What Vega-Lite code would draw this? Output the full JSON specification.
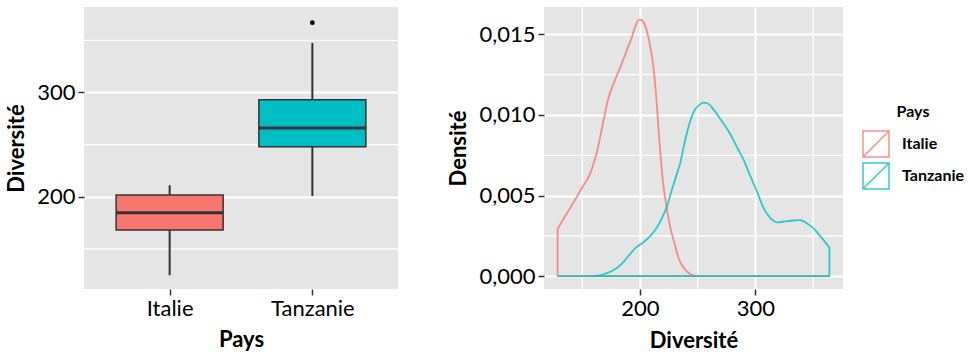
{
  "$schema": "https://vega.github.io/schema/vega-lite/v6.json",
  "autosize": {"type": "none"},
  "padding": {"left": 84, "top": 7, "right": 888, "bottom": 347},
  "background": "white",
  "datasets": {
    "box": [
      {"Pays": "Italie", "lower": 124.7, "q1": 168, "median": 184.6, "q3": 201.6, "upper": 211},
      {"Pays": "Tanzanie", "lower": 200.7, "q1": 248, "median": 266, "q3": 293, "upper": 347.5}
    ],
    "outliers": [{"Pays": "Tanzanie", "value": 367}],
    "minorY1": [{"v": 150}, {"v": 250}, {"v": 350}],
    "minorX2": [{"v": 150}, {"v": 250}, {"v": 350}],
    "minorY2": [{"v": 0.0025}, {"v": 0.0075}, {"v": 0.0125}],
    "density": [
      {"Pays": "Italie", "x": 128.7, "d": 0.00293},
      {"Pays": "Italie", "x": 135, "d": 0.0037},
      {"Pays": "Italie", "x": 143.5, "d": 0.0047},
      {"Pays": "Italie", "x": 150, "d": 0.0055},
      {"Pays": "Italie", "x": 156.5, "d": 0.0063},
      {"Pays": "Italie", "x": 163, "d": 0.0078},
      {"Pays": "Italie", "x": 168, "d": 0.0095},
      {"Pays": "Italie", "x": 172.5, "d": 0.011},
      {"Pays": "Italie", "x": 178, "d": 0.0121},
      {"Pays": "Italie", "x": 182.6, "d": 0.0129},
      {"Pays": "Italie", "x": 188, "d": 0.0139},
      {"Pays": "Italie", "x": 192.8, "d": 0.0148},
      {"Pays": "Italie", "x": 196, "d": 0.0155},
      {"Pays": "Italie", "x": 199, "d": 0.0159},
      {"Pays": "Italie", "x": 201, "d": 0.0159},
      {"Pays": "Italie", "x": 203.5, "d": 0.0157},
      {"Pays": "Italie", "x": 206, "d": 0.0152},
      {"Pays": "Italie", "x": 209, "d": 0.0142},
      {"Pays": "Italie", "x": 211.6, "d": 0.013},
      {"Pays": "Italie", "x": 214, "d": 0.0112},
      {"Pays": "Italie", "x": 217, "d": 0.0082},
      {"Pays": "Italie", "x": 220, "d": 0.0058},
      {"Pays": "Italie", "x": 223, "d": 0.0043},
      {"Pays": "Italie", "x": 226, "d": 0.0031},
      {"Pays": "Italie", "x": 230, "d": 0.002},
      {"Pays": "Italie", "x": 234, "d": 0.001},
      {"Pays": "Italie", "x": 238, "d": 0.0005},
      {"Pays": "Italie", "x": 242, "d": 0.0002},
      {"Pays": "Italie", "x": 246, "d": 0.00005},
      {"Pays": "Italie", "x": 250, "d": 0},
      {"Pays": "Italie", "x": 364, "d": 0},
      {"Pays": "Tanzanie", "x": 128.7, "d": 0},
      {"Pays": "Tanzanie", "x": 156, "d": 0},
      {"Pays": "Tanzanie", "x": 165, "d": 0.00005},
      {"Pays": "Tanzanie", "x": 172, "d": 0.0002},
      {"Pays": "Tanzanie", "x": 180, "d": 0.0005},
      {"Pays": "Tanzanie", "x": 186, "d": 0.0009},
      {"Pays": "Tanzanie", "x": 191.3, "d": 0.00136},
      {"Pays": "Tanzanie", "x": 197, "d": 0.0018},
      {"Pays": "Tanzanie", "x": 203, "d": 0.0021},
      {"Pays": "Tanzanie", "x": 209, "d": 0.0025},
      {"Pays": "Tanzanie", "x": 214.5, "d": 0.003},
      {"Pays": "Tanzanie", "x": 219, "d": 0.0036},
      {"Pays": "Tanzanie", "x": 223.2, "d": 0.0043},
      {"Pays": "Tanzanie", "x": 227, "d": 0.0052},
      {"Pays": "Tanzanie", "x": 230.4, "d": 0.006},
      {"Pays": "Tanzanie", "x": 234.8, "d": 0.007},
      {"Pays": "Tanzanie", "x": 239, "d": 0.0084},
      {"Pays": "Tanzanie", "x": 243, "d": 0.0095},
      {"Pays": "Tanzanie", "x": 247.8, "d": 0.01035},
      {"Pays": "Tanzanie", "x": 251, "d": 0.0106},
      {"Pays": "Tanzanie", "x": 255, "d": 0.01077},
      {"Pays": "Tanzanie", "x": 259, "d": 0.0107},
      {"Pays": "Tanzanie", "x": 263.7, "d": 0.01035},
      {"Pays": "Tanzanie", "x": 270, "d": 0.0097},
      {"Pays": "Tanzanie", "x": 278.3, "d": 0.0088},
      {"Pays": "Tanzanie", "x": 284, "d": 0.008},
      {"Pays": "Tanzanie", "x": 289.8, "d": 0.0072},
      {"Pays": "Tanzanie", "x": 295, "d": 0.0063},
      {"Pays": "Tanzanie", "x": 301, "d": 0.0053},
      {"Pays": "Tanzanie", "x": 307.2, "d": 0.0042},
      {"Pays": "Tanzanie", "x": 313, "d": 0.0036},
      {"Pays": "Tanzanie", "x": 318.9, "d": 0.00334},
      {"Pays": "Tanzanie", "x": 326, "d": 0.0034},
      {"Pays": "Tanzanie", "x": 333.3, "d": 0.00345},
      {"Pays": "Tanzanie", "x": 338, "d": 0.00347},
      {"Pays": "Tanzanie", "x": 342, "d": 0.0034},
      {"Pays": "Tanzanie", "x": 346, "d": 0.0032},
      {"Pays": "Tanzanie", "x": 350.7, "d": 0.00293},
      {"Pays": "Tanzanie", "x": 357, "d": 0.0024},
      {"Pays": "Tanzanie", "x": 364, "d": 0.00177}
    ]
  },
  "config": {
    "font": "Lato",
    "view": {"stroke": null, "fill": "#E5E5E5"},
    "axis": {
      "domain": false,
      "gridColor": "white",
      "gridWidth": 2,
      "tickColor": "#333333",
      "tickWidth": 1.5,
      "tickSize": 6,
      "labelColor": "black",
      "labelFontSize": 22,
      "labelPadding": 3,
      "titleColor": "black",
      "titleFontSize": 22,
      "titleFontWeight": "bold"
    }
  },
  "bounds": "flush",
  "spacing": 146,
  "resolve": {
    "scale": {"fill": "independent", "stroke": "independent"},
    "legend": {"fill": "independent", "stroke": "independent"}
  },
  "hconcat": [
    {
      "width": 314,
      "height": 282,
      "layer": [
        {
          "data": {"name": "minorY1"},
          "mark": {"type": "rule", "color": "white", "strokeWidth": 1.2},
          "encoding": {"y": {"field": "v", "type": "quantitative", "scale": {"domain": [111.5, 382], "nice": false, "zero": false}}}
        },
        {
          "data": {"name": "box"},
          "mark": {"type": "rule", "color": "#333333", "strokeWidth": 2},
          "encoding": {
            "x": {"field": "Pays", "type": "nominal", "scale": {"type": "point", "padding": 0.6}, "axis": {"title": "Pays", "labelAngle": 0, "titlePadding": 10}},
            "y": {"field": "lower", "type": "quantitative", "axis": {"title": "Diversité", "values": [200, 300], "titlePadding": 8}},
            "y2": {"field": "upper"}
          }
        },
        {
          "data": {"name": "box"},
          "mark": {"type": "bar", "size": 107, "stroke": "#333333", "strokeWidth": 1.5},
          "encoding": {
            "x": {"field": "Pays", "type": "nominal"},
            "y": {"field": "q1", "type": "quantitative"},
            "y2": {"field": "q3"},
            "fill": {"field": "Pays", "type": "nominal", "scale": {"domain": ["Italie", "Tanzanie"], "range": ["#F8766D", "#00BFC4"]}, "legend": null}
          }
        },
        {
          "data": {"name": "box"},
          "mark": {"type": "tick", "size": 107, "thickness": 3, "color": "#333333", "orient": "horizontal", "opacity": 1},
          "encoding": {
            "x": {"field": "Pays", "type": "nominal"},
            "y": {"field": "median", "type": "quantitative"}
          }
        },
        {
          "data": {"name": "outliers"},
          "mark": {"type": "point", "filled": true, "color": "black", "size": 22, "opacity": 1},
          "encoding": {
            "x": {"field": "Pays", "type": "nominal"},
            "y": {"field": "value", "type": "quantitative"}
          }
        }
      ]
    },
    {
      "width": 299,
      "height": 282,
      "layer": [
        {
          "data": {"name": "minorX2"},
          "mark": {"type": "rule", "color": "white", "strokeWidth": 1.2},
          "encoding": {"x": {"field": "v", "type": "quantitative", "scale": {"domain": [116.9, 375.8], "nice": false, "zero": false}}}
        },
        {
          "data": {"name": "minorY2"},
          "mark": {"type": "rule", "color": "white", "strokeWidth": 1.2},
          "encoding": {"y": {"field": "v", "type": "quantitative", "scale": {"domain": [-0.0008, 0.0167], "nice": false, "zero": false}}}
        },
        {
          "data": {"name": "density"},
          "mark": {"type": "area", "fill": "transparent", "strokeWidth": 1.8, "strokeOpacity": 0.8, "interpolate": "monotone", "orient": "vertical"},
          "encoding": {
            "x": {"field": "x", "type": "quantitative", "axis": {"title": "Diversité", "values": [200, 300], "titlePadding": 11}},
            "y": {"field": "d", "type": "quantitative", "stack": null, "axis": {"title": "Densité", "values": [0, 0.005, 0.01, 0.015], "labelExpr": "replace(format(datum.value, '.3f'), '.', ',')", "titlePadding": 8}},
            "stroke": {
              "field": "Pays", "type": "nominal",
              "scale": {"domain": ["Italie", "Tanzanie"], "range": ["#F8766D", "#00BFC4"]},
              "legend": {
                "orient": "none", "legendX": 318, "legendY": 97,
                "title": "Pays", "titleFontSize": 16, "titleFontWeight": "bold", "titleColor": "black", "titlePadding": 10, "titleAnchor": "middle",
                "labelFontSize": 16, "labelFontWeight": "bold", "labelColor": "black", "labelOffset": 12,
                "symbolType": "M-1,-1H1V1H-1ZM-1,1L1,-1", "symbolSize": 676, "symbolFillColor": "#F2F2F2",
                "symbolStrokeWidth": 1.5, "symbolOpacity": 0.8, "rowPadding": 0
              }
            }
          }
        }
      ]
    }
  ]
}
